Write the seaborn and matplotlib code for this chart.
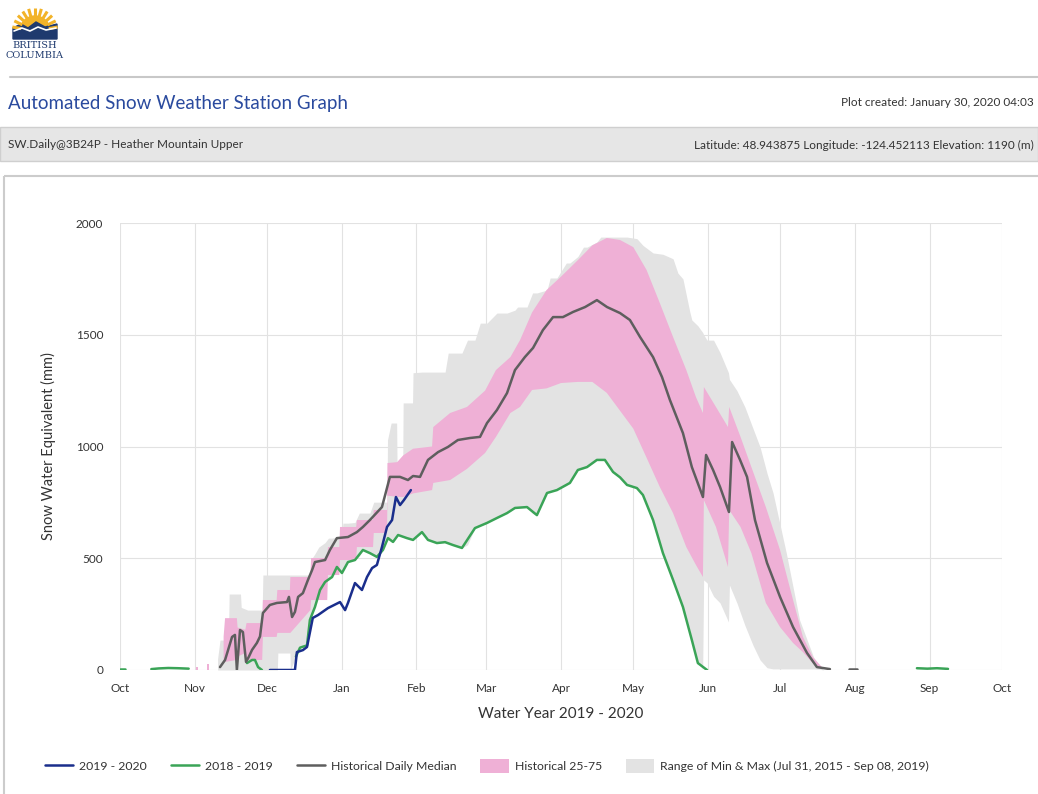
import numpy as np
import pandas as pd
import matplotlib
matplotlib.use("Agg")
import matplotlib.pyplot as plt
import seaborn as sns
from matplotlib.lines import Line2D
from matplotlib.patches import Patch, Rectangle, Wedge, Polygon

# --- data (day of water year, Oct 1 2019 = 0; SWE in mm) ---
month_days = [0, 31, 61, 92, 123, 152, 183, 213, 244, 274, 305, 336, 366]
month_labels = ["Oct", "Nov", "Dec", "Jan", "Feb", "Mar", "Apr", "May", "Jun", "Jul", "Aug", "Sep", "Oct"]

wy2020_day = [62.2, 72.6, 73.4, 75.9, 77.6, 80.0, 82.2, 86.3, 91.3, 93.4, 94.6, 97.5, 100.4,
              102.5, 104.6, 106.6, 108.7, 110.8, 112.9, 114.5, 116.2, 117.8, 120.7]
wy2020_swe = [0, 0, 80, 89, 103, 233, 246, 277, 304, 268, 300, 389, 358,
              416, 456, 470, 550, 640, 671, 774, 738, 760, 805]

wy2019_seg = [0, 0, 1, 1, 1, 1, 1, 2, 2, 2, 2, 2] + [3] * 53 + [4, 4, 4, 4]
wy2019_day = [0.0, 2.0, 13.0, 16.0, 20.0, 24.0, 28.5, 52.7, 54.8, 56.0, 57.3, 58.9,
              73.0, 74.7, 77.6, 78.8, 80.9, 83.0, 85.1, 88.0, 90.0, 92.1, 94.6, 97.5, 100.8,
              103.7, 106.6, 109.1, 111.2, 113.3, 115.4, 119.1, 121.6, 125.3, 127.8, 131.5,
              134.9, 138.2, 141.9, 147.3, 152.3, 156.4, 160.6, 163.9, 168.9, 173.0, 177.2,
              181.3, 186.7, 190.0, 193.8, 197.9, 201.2, 204.6, 207.5, 210.4, 214.5, 217.0,
              221.2, 225.3, 229.5, 233.6, 237.3, 239.8, 243.6,
              330.7, 335.0, 339.0, 343.6]
wy2019_swe = [5, 5, 4, 7, 9, 8, 6, 31, 45, 45, 13, 0,
              60, 100, 110, 224, 282, 358, 394, 416, 461, 434, 483, 492, 537,
              523, 506, 537, 590, 573, 604, 590, 582, 617, 582, 568,
              572, 559, 546, 635, 658, 680, 702, 725, 729, 693, 792,
              805, 837, 895, 908, 940, 940, 886, 862, 828, 814, 783,
              671, 523, 403, 282, 134, 31, 0,
              8, 6, 8, 5]

median_seg = [0] * 79 + [1, 1]
median_day = [41.5, 43.6, 46.5, 47.7, 48.5, 49.8, 51.0, 52.3, 53.5, 54.8, 56.8, 58.1, 59.3,
              62.2, 65.1, 69.3, 70.1, 71.4, 72.6, 73.9, 75.9, 78.0, 79.7, 80.9, 85.1, 87.1,
              90.0, 94.6, 98.3, 100.8, 103.7, 108.7, 112.0, 116.2, 119.5, 121.6, 124.5, 127.8,
              132.0, 136.1, 140.2, 145.2, 149.4, 152.3, 156.4, 160.6, 163.9, 168.0, 171.4,
              175.5, 179.7, 183.8, 188.0, 193.0, 197.9, 202.1, 207.5, 211.6, 215.8, 221.2,
              224.9, 228.2, 233.6, 237.3, 241.9, 243.2, 246.1, 249.0, 252.7, 254.0, 257.3,
              260.2, 263.5, 268.5, 273.9, 279.3, 285.1, 289.2, 294.6,
              302.5, 305.8]
median_swe = [13, 45, 148, 157, 0, 179, 170, 36, 60, 90, 121, 150, 255,
              291, 300, 304, 327, 237, 260, 327, 344, 403, 447, 483, 492, 537,
              590, 595, 617, 640, 671, 729, 864, 864, 850, 868, 864, 940,
              975, 998, 1029, 1038, 1043, 1105, 1163, 1239, 1342, 1400, 1441,
              1521, 1579, 1579, 1602, 1624, 1655, 1624, 1597, 1566, 1490, 1400,
              1311, 1208, 1060, 908, 774, 962, 895, 819, 707, 1020, 940,
              864, 671, 479, 327, 192, 76, 13, 4,
              6, 6]

# historical 25-75 percentile band
p_day = [31.5, 32.5, 33.0, 36.0, 37.0, 38.0,
         43.0, 43.6, 48.5, 48.8, 52.0, 52.5, 59.0, 59.3, 65.0, 65.3, 70.5, 70.7, 79.0, 79.3,
         86.0, 86.3, 91.0, 91.3, 98.0, 98.3, 105.0, 105.3, 110.8, 111.0, 115.0, 117.5, 121.6,
         129.5, 130.0, 137.0, 144.0, 151.5, 156.0, 162.0, 166.0, 171.0, 177.0, 183.0, 190.0,
         196.0, 202.0, 207.5, 213.0, 218.5, 224.0, 229.5, 235.0, 239.0, 241.9, 242.3, 247.3,
         252.3, 252.8, 257.5, 262.0, 268.0, 273.9, 279.3, 283.4, 287.5, 291.6]
p_low = [0, 0, np.nan, 0, 0, np.nan,
         30, 36, 45, 60, 76, 45, 45, 148, 148, 166, 166, 166, 268, 313,
         313, 425, 425, 492, 492, 550, 550, 613, 613, 780, 775, 774, 790,
         805, 837, 850, 900, 971, 1043, 1150, 1177, 1253, 1260, 1284, 1289,
         1289, 1240, 1160, 1080, 950, 819, 702, 550, 470, 416, 760, 640,
         461, 716, 640, 523, 300, 192, 121, 80, 30, 5]
p_high = [15, 15, np.nan, 25, 25, np.nan,
          150, 232, 232, 190, 180, 210, 210, 313, 313, 358, 358, 416, 416, 501,
          501, 550, 550, 640, 640, 671, 671, 716, 716, 926, 930, 960, 990,
          1000, 1087, 1150, 1177, 1250, 1342, 1400, 1476, 1600, 1700, 1760, 1834,
          1900, 1933, 1924, 1892, 1790, 1642, 1490, 1342, 1221, 1150, 1266, 1177,
          1087, 1177, 1043, 908, 729, 537, 313, 148, 58, 9]

# range of min & max band
g_day = [40.5, 41.5, 45.0, 45.3, 50.0, 50.3, 53.0, 59.0, 59.3, 65.3, 65.5, 70.5, 70.7,
         73.0, 74.7, 77.6, 78.8, 79.2, 80.9, 82.5, 85.1, 86.5, 88.0, 90.0, 92.1, 92.5,
         94.6, 97.5, 99.3, 100.8, 103.7, 105.3, 106.6, 109.1, 110.8, 111.0, 112.5, 113.3,
         114.8, 115.0, 117.3, 117.5, 119.1, 121.4, 121.6, 125.3, 127.8, 131.5, 134.9,
         136.2, 138.2, 141.9, 144.2, 147.3, 149.5, 152.3, 156.4, 160.6, 163.9, 165.0,
         168.9, 171.2, 173.0, 177.2, 178.5, 181.3, 185.2, 186.7, 190.0, 192.3, 193.8,
         197.9, 199.5, 201.2, 204.6, 207.5, 210.4, 214.5, 217.0, 221.2, 225.3, 229.5,
         231.5, 233.6, 236.5, 237.3, 239.8, 241.8, 242.2, 243.6, 246.3, 249.0, 252.5,
         252.9, 256.0, 259.3, 262.7, 265.6, 268.5, 271.0, 276.5, 282.0, 287.8, 290.5, 292.0]
g_low = [0, 0, 0, 0, 0, 0, 0, 0, 0, 0, 76, 76, 0,
         60, 100, 110, 224, 250, 282, 360, 394, 410, 416, 461, 434, 440,
         483, 492, 510, 537, 523, 515, 506, 537, 580, 590, 580, 573,
         600, 604, 595, 595, 590, 582, 590, 617, 582, 568, 572,
         565, 559, 546, 560, 635, 645, 658, 680, 702, 725, 727,
         729, 700, 693, 792, 797, 805, 825, 837, 895, 900, 908,
         940, 940, 940, 886, 862, 828, 814, 783, 671, 523, 403,
         350, 282, 180, 134, 31, 5, 403, 390, 330, 300, 215,
         380, 300, 200, 110, 45, 10, 5, 5, 5, 5, 3, 0]
g_high = [50, 134, 134, 340, 340, 280, 268, 268, 425, 425, 425, 425, 425,
          425, 425, 425, 425, 492, 520, 550, 570, 590, 590, 595, 600, 657,
          657, 660, 702, 702, 702, 751, 751, 751, 751, 1029, 1105, 1105,
          1105, 880, 880, 1195, 1195, 1195, 1330, 1333, 1333, 1333, 1333,
          1418, 1418, 1418, 1476, 1476, 1552, 1552, 1597, 1597, 1610, 1624,
          1624, 1687, 1687, 1700, 1754, 1754, 1821, 1821, 1850, 1892, 1892,
          1915, 1937, 1937, 1937, 1937, 1937, 1930, 1900, 1866, 1860, 1840,
          1776, 1750, 1600, 1566, 1540, 1510, 1500, 1476, 1476, 1420, 1330,
          1300, 1250, 1177, 1080, 998, 880, 792, 523, 224, 58, 15, 0]

c_2020 = "#1a2e8c"
c_2019 = "#3aa457"
c_median = "#5e5e5e"
c_pink = "#efb0d6"
c_grey = "#e3e3e3"
txt = "#333333"

sns.set_theme(style="white")
plt.rcParams["font.family"] = ["Lato", "DejaVu Sans"]

fig = plt.figure(figsize=(10.38, 7.94), dpi=100)

# --- page decorations in pixel coordinates ---
deco = fig.add_axes([0, 0, 1, 1], zorder=0)
deco.set_xlim(0, 1038)
deco.set_ylim(794, 0)
deco.axis("off")

# BC logo (simple sun over mountains)
for ang in np.linspace(10, 170, 11):
    r = np.deg2rad(ang)
    deco.plot([35 + 14 * np.cos(r), 35 + 23 * np.cos(r)],
              [31 - 14 * np.sin(r), 31 - 23 * np.sin(r)], color="#f2b329", lw=2.2,
              solid_capstyle="butt")
deco.add_patch(Wedge((35, 31), 15, 180, 360, color="#f2b329"))
deco.add_patch(Polygon([[13, 39], [13, 28], [21, 24], [28, 28], [36, 22], [45, 27], [57, 24],
                        [57, 39]], closed=True, color="#1f3a6e"))
deco.plot([14, 22, 30, 38, 46, 56], [31, 28, 31, 27, 30, 28], color="white", lw=1.2)
deco.text(35, 46, "BRITISH", ha="center", va="center", fontsize=7, color="#1f3a6e", family="DejaVu Serif")
deco.text(35, 56, "COLUMBIA", ha="center", va="center", fontsize=7, color="#1f3a6e", family="DejaVu Serif")

deco.plot([10, 1038], [77, 77], color="#c8c8c8", lw=1.5)
deco.text(8, 103, "Automated Snow Weather Station Graph", ha="left", va="center",
          fontsize=13.5, color="#2a4a9e")
deco.text(1034, 103, "Plot created: January 30, 2020 04:03", ha="right", va="center",
          fontsize=8.5, color=txt)
deco.add_patch(Rectangle((0, 127), 1038, 34, facecolor="#e6e6e6", edgecolor="#cfcfcf", lw=1))
deco.text(8, 145, "SW.Daily@3B24P - Heather Mountain Upper", ha="left", va="center",
          fontsize=8.5, color=txt)
deco.text(1034, 145, "Latitude: 48.943875 Longitude: -124.452113 Elevation: 1190 (m)",
          ha="right", va="center", fontsize=8.5, color=txt)
deco.add_patch(Rectangle((4, 176), 1060, 640, facecolor="none", edgecolor="#cccccc", lw=1.5))

# --- chart ---
ax = fig.add_axes([120 / 1038, 1 - 670 / 794, 882 / 1038, 447 / 794], zorder=1)
ax.patch.set_alpha(0)

ax.fill_between(g_day, g_low, g_high, color=c_grey, lw=0)
ax.fill_between(p_day, p_low, p_high, color=c_pink, lw=0)

df19 = pd.DataFrame({"day": wy2019_day, "swe": wy2019_swe, "seg": wy2019_seg})
dfmed = pd.DataFrame({"day": median_day, "swe": median_swe, "seg": median_seg})
df20 = pd.DataFrame({"day": wy2020_day, "swe": wy2020_swe})

sns.lineplot(data=df19, x="day", y="swe", units="seg", estimator=None, sort=False,
             color=c_2019, lw=1.8, ax=ax)
sns.lineplot(data=dfmed, x="day", y="swe", units="seg", estimator=None, sort=False,
             color=c_median, lw=1.8, ax=ax)
sns.lineplot(data=df20, x="day", y="swe", estimator=None, sort=False,
             color=c_2020, lw=1.8, ax=ax)

ax.set_xlim(0, 366)
ax.set_ylim(0, 2000)
ax.set_xticks(month_days)
ax.set_xticklabels(month_labels)
ax.set_yticks([0, 500, 1000, 1500, 2000])
ax.grid(True, color="#e2e2e2", lw=0.8)
ax.set_axisbelow(True)
for s in ax.spines.values():
    s.set_visible(False)
ax.tick_params(axis="x", length=0, pad=9, labelsize=8.5, labelcolor=txt)
ax.tick_params(axis="y", length=10, color="#e2e2e2", pad=2, labelsize=8.5, labelcolor=txt)
ax.set_xlabel("Water Year 2019 - 2020", fontsize=11, color=txt, labelpad=10)
ax.set_ylabel("Snow Water Equivalent (mm)", fontsize=10.5, color=txt, labelpad=14)

handles = [Line2D([], [], color=c_2020, lw=1.8),
           Line2D([], [], color=c_2019, lw=1.8),
           Line2D([], [], color=c_median, lw=1.8),
           Patch(facecolor=c_pink, edgecolor="none"),
           Patch(facecolor=c_grey, edgecolor="none")]
labels = ["2019 - 2020", "2018 - 2019", "Historical Daily Median", "Historical 25-75",
          "Range of Min & Max (Jul 31, 2015 - Sep 08, 2019)"]
fig.legend(handles, labels, loc="center", bbox_to_anchor=(487 / 1038, 1 - 766 / 794),
           ncol=5, frameon=False, fontsize=8.8, handlelength=2.3, handleheight=1.4,
           handletextpad=0.5, columnspacing=1.95, labelcolor=txt)

fig.savefig("out.png", dpi=100)
